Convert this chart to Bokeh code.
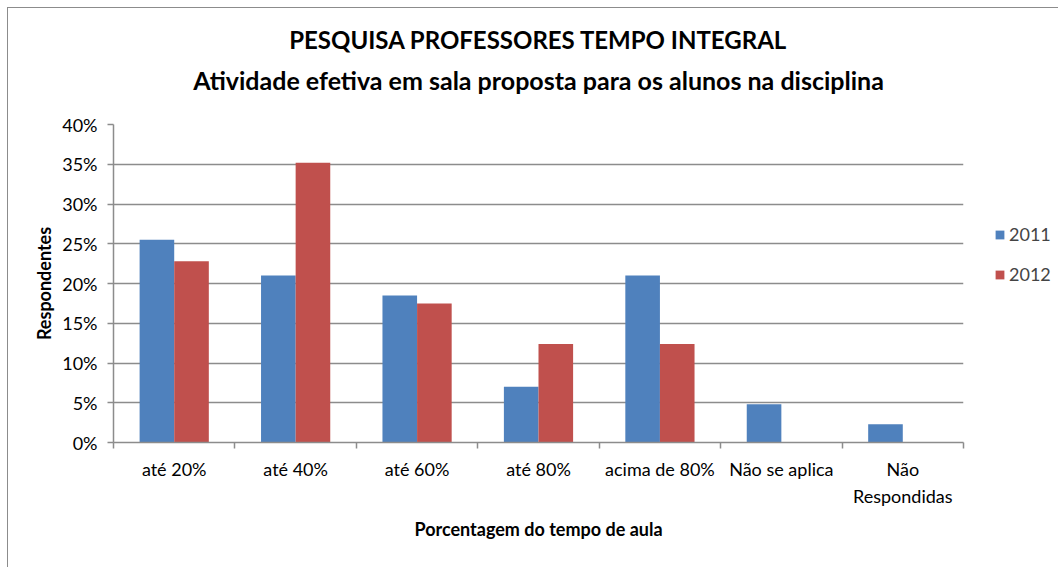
from bokeh.plotting import figure
from bokeh.models import (Range1d, LinearAxis, FixedTicker, Title,
                          Legend, LegendItem, ColumnDataSource)
from bokeh.transform import dodge
from bokeh.embed import file_html
from bokeh.resources import INLINE

categories = ["até 20%", "até 40%", "até 60%", "até 80%", "acima de 80%", "Não se aplica", "Não\nRespondidas"]
values_2011 = [0.255, 0.210, 0.185, 0.070, 0.210, 0.048, 0.023]
values_2012 = [0.228, 0.352, 0.175, 0.124, 0.124, 0.0, 0.0]
y_ticks = [0, 0.05, 0.10, 0.15, 0.20, 0.25, 0.30, 0.35, 0.40]
y_tick_labels = ["0%", "5%", "10%", "15%", "20%", "25%", "30%", "35%", "40%"]
title_main = "PESQUISA PROFESSORES TEMPO INTEGRAL"
title_sub = "Atividade efetiva em sala proposta para os alunos na disciplina"

FONT = "Lato"
GRID = "#8c8c8c"
BLUE = "#4F81BD"
RED = "#C0504D"

n = len(categories)
centers = [i + 0.5 for i in range(n)]
src = ColumnDataSource(dict(pos=centers, y2011=values_2011, y2012=values_2012))

p = figure(x_range=Range1d(0, n), y_range=Range1d(0, 0.40), title=None,
           frame_width=850, frame_height=318, output_backend="svg", toolbar_location=None,
           x_axis_location=None, y_axis_location="left",
           min_border_left=105, min_border_right=95, min_border_top=116, min_border_bottom=125)
p.styles = {"margin-left": "7px", "margin-top": "7px",
            "border-left": "1px solid #8c8c8c", "border-top": "1px solid #8c8c8c"}

p.outline_line_color = None
p.border_fill_color = "white"
p.background_fill_color = "white"

bw = 0.285
r1 = p.vbar(x=dodge("pos", -bw / 2), top="y2011", width=bw, source=src,
            fill_color=BLUE, line_color=None)
r2 = p.vbar(x=dodge("pos", bw / 2), top="y2012", width=bw, source=src,
            fill_color=RED, line_color=None)
# invisible renderer used only to balance the legend's vertical placement
r_pad = p.vbar(x=[], top=[], width=bw, fill_alpha=0, line_alpha=0)

# grid
p.xgrid.visible = False
p.ygrid.ticker = FixedTicker(ticks=y_ticks)
p.ygrid.grid_line_color = GRID
p.ygrid.grid_line_width = 1.5

# y axis
ya = p.yaxis[0]
ya.ticker = FixedTicker(ticks=y_ticks)
ya.major_label_overrides = {t: l for t, l in zip(y_ticks, y_tick_labels)}
ya.axis_line_color = GRID
ya.axis_line_width = 1.5
ya.major_tick_line_color = GRID
ya.major_tick_line_width = 1.5
ya.major_tick_out = 6
ya.major_tick_in = 0
ya.minor_tick_line_color = None
ya.major_label_text_font = FONT
ya.major_label_text_font_size = "18px"
ya.major_label_text_color = "black"
ya.major_label_standoff = 10
ya.axis_label = "Respondentes"
ya.axis_label_text_font = FONT
ya.axis_label_text_font_style = "bold"
ya.axis_label_text_font_size = "18px"
ya.axis_label_text_color = "black"
ya.axis_label_standoff = 4

# boundary tick axis
ta = LinearAxis(ticker=FixedTicker(ticks=list(range(n + 1))))
ta.major_label_text_font_size = "0px"
ta.major_label_standoff = 0
ta.axis_line_color = GRID
ta.axis_line_width = 1.5
ta.major_tick_line_color = GRID
ta.major_tick_line_width = 1.5
ta.major_tick_out = 6
ta.major_tick_in = 0
ta.minor_tick_line_color = None
p.add_layout(ta, "below")

# category labels axis
ca = LinearAxis(ticker=FixedTicker(ticks=centers))
ca.major_label_overrides = {c: lab for c, lab in zip(centers, categories)}
ca.axis_line_color = None
ca.major_tick_line_color = None
ca.minor_tick_line_color = None
ca.major_tick_out = 0
ca.major_label_text_font = FONT
ca.major_label_text_font_size = "18px"
ca.major_label_text_line_height = 1.25
ca.major_label_text_color = "black"
ca.major_label_standoff = 9
ca.axis_label = "Porcentagem do tempo de aula"
ca.axis_label_text_font = FONT
ca.axis_label_text_font_style = "bold"
ca.axis_label_text_font_size = "18px"
ca.axis_label_text_color = "black"
ca.axis_label_standoff = 8
p.add_layout(ca, "below")

# subtitle: carried by a tick-less axis above the plot (centred on the plot area)
sa = LinearAxis(ticker=FixedTicker(ticks=[]))
sa.axis_line_color = None
sa.major_tick_line_color = None
sa.minor_tick_line_color = None
sa.major_tick_out = 0
sa.major_tick_in = 0
sa.major_label_standoff = 0
sa.major_label_text_font_size = "0px"
sa.axis_label = title_sub
sa.axis_label_text_font = FONT
sa.axis_label_text_font_style = "bold"
sa.axis_label_text_font_size = "25px"
sa.axis_label_text_color = "black"
sa.axis_label_standoff = 30
p.add_layout(sa, "above")

# main title, stacked above the subtitle
ttl = Title(text=title_main,
            text_font=FONT, text_font_style="bold", text_font_size="24px",
            align="center", text_color="black", standoff=15)
p.add_layout(ttl, "above")

legend = Legend(items=[LegendItem(label="2011", renderers=[r1]),
                       LegendItem(label="2012", renderers=[r2]),
                       LegendItem(label=" ", renderers=[r_pad]),
                       LegendItem(label=" ", renderers=[r_pad])],
                location="left", orientation="vertical",
                border_line_color=None, background_fill_alpha=0,
                glyph_width=11, glyph_height=11, spacing=18, padding=0, margin=31,
                label_text_font=FONT, label_text_font_size="18px", label_standoff=4)
p.add_layout(legend, "right")

open("out.html", "w").write(file_html(p, INLINE))
